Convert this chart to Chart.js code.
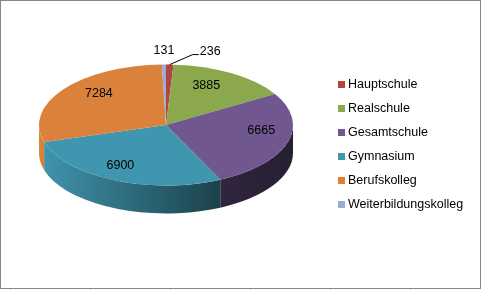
<!DOCTYPE html>
<html>
<head>
<meta charset="utf-8">
<script src="https://cdn.jsdelivr.net/npm/chart.js@4.4.0/dist/chart.umd.min.js"></script>
<style>
  body { margin: 0; background: #fff; }
  #wrap { position: relative; width: 481px; height: 290px; }
  #pieChart { position: absolute; left: 0; top: 0; }
  #frame { position: absolute; left: 0; top: 0; width: 479px; height: 287px; border: 1px solid #878787; pointer-events: none; }
  #ticks { position: absolute; left: 0; top: 289px; width: 481px; height: 1px;
    background: repeating-linear-gradient(to right, transparent 0 10px, #c8c8c8 10px 11px, transparent 11px 80px); }
  #legend { position: absolute; left: 338px; top: 72px; margin: 0; padding: 0; list-style: none;
    font: 12.5px "Liberation Sans", Arial, sans-serif; color: #000; }
  #legend li { height: 24px; line-height: 24px; display: flex; align-items: center; white-space: nowrap; }
  #legend span.box { width: 7px; height: 7px; margin-right: 3px; display: inline-block; }
</style>
</head>
<body>
<div id="wrap">
  <canvas id="pieChart" width="481" height="290"></canvas>
  <ul id="legend"></ul>
  <div id="frame"></div>
  <div id="ticks"></div>
</div>
<script>
const schoolTypes = ['Hauptschule', 'Realschule', 'Gesamtschule', 'Gymnasium', 'Berufskolleg', 'Weiterbildungskolleg'];
const pupils = [236, 3885, 6665, 6900, 7284, 131];
const sliceColors = ['#B4443F', '#8BA84D', '#715790', '#4096AE', '#DA823B', '#98ADD5'];

const TILT = 0.476;   // vertical squash of the pie
const DEPTH = 28;     // height of the side wall
const LIFT = 20;      // move the top face up a bit
const total = pupils.reduce((a, b) => a + b, 0);

function shade(hex, k) {
  const n = parseInt(hex.slice(1), 16);
  const r = Math.round(((n >> 16) & 255) * k);
  const g = Math.round(((n >> 8) & 255) * k);
  const b = Math.round((n & 255) * k);
  return `rgb(${r},${g},${b})`;
}

const pie3d = {
  id: 'pie3d',
  beforeDatasetsDraw(chart) {
    const ctx = chart.ctx;
    const arcs = chart.getDatasetMeta(0).data;
    const cx = arcs[0].x, cy = arcs[0].y - LIFT, r = arcs[0].outerRadius;

    // side walls, only the front half is visible
    arcs.forEach((arc, i) => {
      const a1 = Math.max(arc.startAngle, 0);
      const a2 = Math.min(arc.endAngle, Math.PI);
      if (a2 <= a1) return;
      const g = ctx.createLinearGradient(cx - r, 0, cx + r, 0);
      g.addColorStop(0, shade(sliceColors[i], 1.0));
      g.addColorStop(0.73, shade(sliceColors[i], 0.42));
      g.addColorStop(1, shade(sliceColors[i], 0.36));
      ctx.beginPath();
      ctx.ellipse(cx, cy, r, r * TILT, 0, a1, a2);
      ctx.ellipse(cx, cy + DEPTH, r, r * TILT, 0, a2, a1, true);
      ctx.closePath();
      ctx.fillStyle = g;
      ctx.fill();
    });

    // squash the top face drawn by Chart.js
    ctx.save();
    ctx.translate(cx, cy);
    ctx.scale(1, TILT);
    ctx.translate(-cx, -(cy + LIFT));
  },
  afterDatasetsDraw(chart) {
    const ctx = chart.ctx;
    ctx.restore();

    const arcs = chart.getDatasetMeta(0).data;
    const cx = arcs[0].x, cy = arcs[0].y - LIFT, r = arcs[0].outerRadius;
    ctx.save();
    ctx.font = '12.5px "Liberation Sans", Arial, sans-serif';
    ctx.fillStyle = '#000';
    ctx.strokeStyle = '#000';
    ctx.lineWidth = 1;
    ctx.textBaseline = 'middle';
    arcs.forEach((arc, i) => {
      const mid = (arc.startAngle + arc.endAngle) / 2;
      const text = String(pupils[i]);
      if (pupils[i] / total > 0.02) {
        // labels in the front sit a bit further out (perspective)
        const f = 0.74 + 0.15 * Math.sin(mid);
        ctx.textAlign = 'center';
        ctx.fillText(text, cx + Math.cos(mid) * r * f, cy - 8 + Math.sin(mid) * r * TILT * f);
      } else {
        const ex = cx + Math.cos(mid) * r;
        const ey = cy + Math.sin(mid) * r * TILT;
        if (Math.cos(mid) >= 0) {
          ctx.beginPath();
          ctx.moveTo(ex, ey);
          ctx.lineTo(ex + 23, ey - 10);
          ctx.lineTo(ex + 29, ey - 10);
          ctx.stroke();
          ctx.textAlign = 'left';
          ctx.fillText(text, ex + 30, ey - 13);
        } else {
          ctx.textAlign = 'center';
          ctx.fillText(text, ex, ey - 14);
        }
      }
    });
    ctx.restore();
  }
};

const chart = new Chart(document.getElementById('pieChart'), {
  type: 'pie',
  data: {
    labels: schoolTypes,
    datasets: [{
      data: pupils,
      backgroundColor: sliceColors,
      borderWidth: 0,
      hoverOffset: 0,
      offset: 0
    }]
  },
  options: {
    responsive: false,
    animation: false,
    layout: { padding: { left: 39, right: 188, top: 18, bottom: 18 } },
    plugins: {
      legend: { display: false },
      tooltip: { enabled: false }
    }
  },
  plugins: [pie3d]
});

// html legend from the chart's own legend items
const legendList = document.getElementById('legend');
chart.options.plugins.legend.labels.generateLabels(chart).forEach(item => {
  const li = document.createElement('li');
  const box = document.createElement('span');
  box.className = 'box';
  box.style.background = item.fillStyle;
  li.appendChild(box);
  li.appendChild(document.createTextNode(item.text));
  legendList.appendChild(li);
});
</script>
</body>
</html>
